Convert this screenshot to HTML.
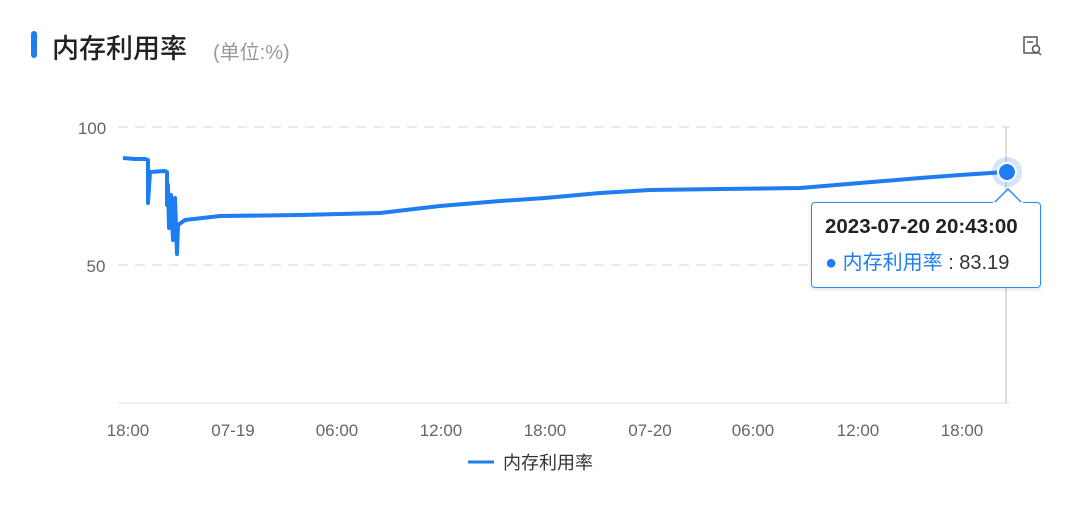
<!DOCTYPE html><html><head><meta charset="utf-8"><style>
body{margin:0;width:1080px;height:528px;background:#fff;font-family:"Liberation Sans","Noto Sans CJK SC",sans-serif;overflow:hidden;position:relative}
.t{position:absolute;left:52px;top:27px;font-size:27px;color:#222;font-weight:500}
.bar{position:absolute;left:31px;top:31px;width:6px;height:27px;border-radius:3px;background:#1e7df0}
.u{position:absolute;left:213px;top:36px;font-size:20px;color:#999}
.tip{position:absolute;left:811px;top:202px;width:228px;height:84px;border:1.5px solid #2e8cf0;border-radius:4px;background:rgba(255,255,255,.96);box-shadow:0 1px 4px rgba(0,0,0,.15)}
</style></head><body>
<div class="bar"></div><div class="t">内存利用率</div><div class="u">(单位:%)</div>
<svg width="1080" height="528" style="position:absolute;left:0;top:0">
<g stroke="#ddd" stroke-dasharray="10,7" stroke-width="1.3"><line x1="118" y1="127" x2="1010" y2="127"/><line x1="118" y1="265" x2="1010" y2="265"/></g>
<line x1="118" y1="403" x2="1010" y2="403" stroke="#ddd"/>
<line x1="1006" y1="127" x2="1006" y2="403" stroke="#bbb"/>
<g font-size="17" fill="#666" text-anchor="middle">
<text x="92" y="134">100</text><text x="96" y="272">50</text>
<text x="128" y="436">18:00</text><text x="233" y="436">07-19</text><text x="337" y="436">06:00</text><text x="441" y="436">12:00</text><text x="545" y="436">18:00</text><text x="650" y="436">07-20</text><text x="753" y="436">06:00</text><text x="858" y="436">12:00</text><text x="962" y="436">18:00</text></g>
<polyline fill="none" stroke="#1e7df0" stroke-width="4" stroke-linejoin="round" points="123,158 135,159 145,159 148,160 148,203 150,172 165,171 167,172 167,205 168,185 169,228 171,195 173,240 175,198 177,254 178,225 185,220 220,216 300,215 380,213 440,206 500,201 545,198 600,193 650,190 720,189 800,188 860,183 920,178 960,175 1006,172"/>
<circle cx="1007" cy="172" r="15" fill="#1e7df0" opacity=".2"/>
<circle cx="1007" cy="172" r="9" fill="#1e7df0" stroke="#fff" stroke-width="2"/>
<line x1="468" y1="462" x2="494" y2="462" stroke="#1e7df0" stroke-width="3"/>
<text x="503" y="469" font-size="18" fill="#333">内存利用率</text>
<g stroke="#555" stroke-width="1.5" fill="none"><rect x="1024" y="37" width="13" height="16"/><circle cx="1036" cy="49" r="3.5" fill="#fff"/><line x1="1038" y1="52" x2="1041" y2="55"/><line x1="1027" y1="42" x2="1033" y2="42"/></g>
</svg>
<div class="tip"><div style="position:absolute;left:13px;top:12px;font-size:20.5px;font-weight:bold;color:#222">2023-07-20 20:43:00</div>
<div style="position:absolute;left:13px;top:43px;font-size:20px;color:#333"><span style="color:#1e7df0">● 内存利用率</span> : 83.19</div></div>
<svg width="30" height="16" style="position:absolute;left:993px;top:188px"><polygon points="1,15 15,1 29,15" fill="#fff" stroke="#2e8cf0" stroke-width="1.5"/><rect x="0" y="14" width="30" height="3" fill="#fff"/></svg>
</body></html>
